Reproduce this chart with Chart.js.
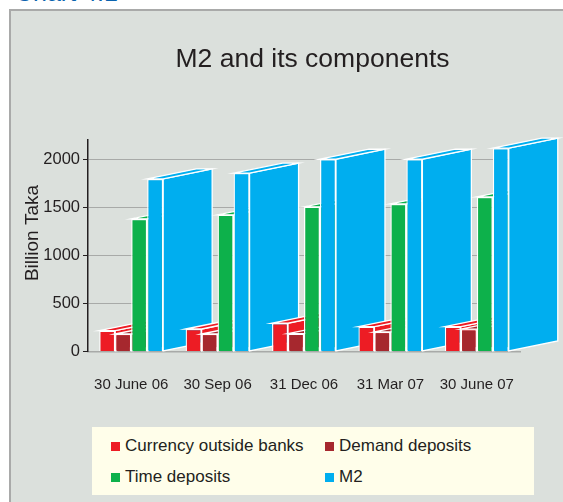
<!DOCTYPE html>
<html>
<head>
<meta charset="utf-8">
<style>
    html, body { margin: 0; padding: 0; background: #fff; overflow: hidden; }
    #page { position: relative; width: 563px; height: 502px; overflow: hidden; font-family: "Liberation Sans", Arial, sans-serif; }
    #heading { position: absolute; left: 15px; top: -22px; font-size: 25px; line-height: 28px; color: #0b63ae; }
    #panel { position: absolute; left: 9px; top: 9px; width: 560px; height: 500px; background: #dbe0dc; border: 2px solid #a9aaa9; }
    #chart { position: absolute; left: 0; top: 0; }
    #legend { position: absolute; left: 92px; top: 427px; width: 442px; height: 68px; background: #fffeea; }
    .item { position: absolute; font-size: 17px; line-height: 20px; color: #231f20; white-space: nowrap; }
    .item i { position: absolute; left: -14px; top: 6px; width: 9px; height: 9px; }
</style>
<script src="https://cdn.jsdelivr.net/npm/chart.js@4"></script>
</head>
<body>
<div id="page">
    <div id="heading">Chart 4.1</div>
    <div id="panel"></div>
    <canvas id="chart" width="563" height="502"></canvas>
    <div id="legend"></div>
</div>
<script>
var categories = ['30 June 06', '30 Sep 06', '31 Dec 06', '31 Mar 07', '30 June 07'];
var currencyOutside = [217, 234, 294, 258, 258];
var demandDeposits = [182, 182, 185, 203, 232];
var timeDeposits = [1380, 1422, 1505, 1535, 1608];
var m2 = [1795, 1856, 2000, 2000, 2115];
var yTicks = [0, 500, 1000, 1500, 2000];
var seriesNames = ['Currency outside banks', 'Demand deposits', 'Time deposits', 'M2'];
var seriesColors = ['#ed1c24', '#a6282e', '#0db14b', '#00aeef'];

var DEPTH_X = 49, DEPTH_Y = 10;

function face(ctx, pts, color) {
    ctx.beginPath();
    ctx.moveTo(pts[0][0], pts[0][1]);
    for (var i = 1; i < pts.length; i++) ctx.lineTo(pts[i][0], pts[i][1]);
    ctx.closePath();
    ctx.fillStyle = color;
    ctx.fill();
    ctx.strokeStyle = '#ffffff';
    ctx.lineWidth = 1.3;
    ctx.stroke();
}

// bars get a fake 3d depth, group by group so the next group covers the one before
var bars3d = {
    id: 'bars3d',
    beforeDatasetsDraw: function (chart) {
        var ctx = chart.ctx;
        categories.forEach(function (c, i) {
            chart.data.datasets.forEach(function (ds, d) {
                var bar = chart.getDatasetMeta(d).data[i];
                var l = bar.x - bar.width / 2, r = bar.x + bar.width / 2;
                face(ctx, [[r, bar.y], [r + DEPTH_X, bar.y - DEPTH_Y], [r + DEPTH_X, bar.base - DEPTH_Y], [r, bar.base]], ds.backgroundColor);
                face(ctx, [[l, bar.y], [l + DEPTH_X, bar.y - DEPTH_Y], [r + DEPTH_X, bar.y - DEPTH_Y], [r, bar.y]], ds.backgroundColor);
                bar.draw(ctx);
            });
        });
        return false;
    },
    afterDraw: function (chart) {
        var ctx = chart.ctx;
        ctx.save();
        ctx.translate(33, 233);
        ctx.rotate(-Math.PI / 2);
        ctx.font = '19px "Liberation Sans"';
        ctx.fillStyle = '#231f20';
        ctx.textAlign = 'center';
        ctx.textBaseline = 'middle';
        ctx.fillText('Billion Taka', 0, 0);
        ctx.restore();
    },
    afterLayout: function (chart) {
        // title sits a bit right of the canvas centre
        chart.titleBlock.left = 62;
        chart.titleBlock.right = 563;
    }
};

new Chart(document.getElementById('chart').getContext('2d'), {
    type: 'bar',
    data: {
        labels: categories,
        datasets: [currencyOutside, demandDeposits, timeDeposits, m2].map(function (values, i) {
            return {
                label: seriesNames[i],
                data: values,
                backgroundColor: seriesColors[i],
                borderColor: '#ffffff',
                borderWidth: 1.3,
                categoryPercentage: 0.74,
                barPercentage: 1
            };
        })
    },
    options: {
        responsive: false,
        animation: false,
        layout: { padding: { right: 43 } },
        plugins: {
            legend: { display: false },
            tooltip: { enabled: false },
            title: {
                display: true,
                text: 'M2 and its components',
                color: '#231f20',
                font: { family: '"Liberation Sans"', size: 26.5, weight: 'normal', lineHeight: 1.2 },
                padding: { top: 43.5, bottom: 64.7 }
            }
        },
        scales: {
            x: {
                afterFit: function (scale) { scale.height = 150.5; },
                grid: { display: false },
                border: { color: '#a8aaa8', width: 1.5 },
                ticks: { color: '#231f20', font: { family: '"Liberation Sans"', size: 15 }, padding: 16, maxRotation: 0, autoSkip: false }
            },
            y: {
                min: 0,
                max: 2200,
                afterFit: function (scale) { scale.width = 88; },
                afterBuildTicks: function (scale) {
                    scale.ticks = yTicks.map(function (v) { return { value: v }; });
                },
                grid: { color: '#a8aaa8', lineWidth: 1, tickColor: '#231f20', tickLength: 5 },
                border: { color: '#231f20', width: 1.5 },
                ticks: {
                    color: '#231f20',
                    font: { family: '"Liberation Sans"', size: 16.5 },
                    padding: 3,
                    callback: function (v) { return String(v); }
                }
            }
        }
    },
    plugins: [bars3d]
});

// legend is a plain html box, two columns
var legendBox = document.getElementById('legend');
var legendX = [33, 247], legendY = [9, 40];
seriesNames.forEach(function (name, i) {
    var item = document.createElement('div');
    item.className = 'item';
    item.style.left = legendX[i % 2] + 'px';
    item.style.top = legendY[Math.floor(i / 2)] + 'px';
    item.innerHTML = '<i style="background:' + seriesColors[i] + '"></i>' + name;
    legendBox.appendChild(item);
});
</script>
</body>
</html>
